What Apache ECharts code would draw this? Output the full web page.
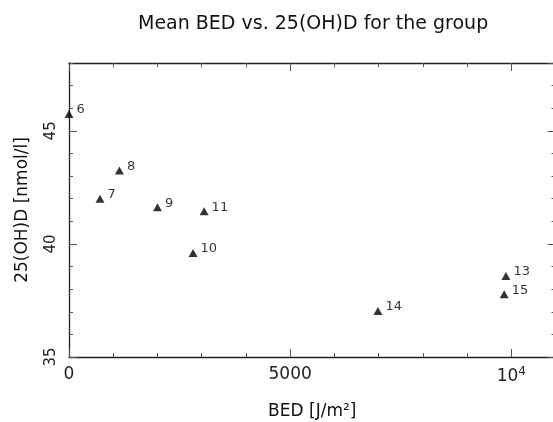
<!DOCTYPE html>
<html>
<head>
<meta charset="utf-8">
<script src="https://cdn.jsdelivr.net/npm/echarts@6/dist/echarts.min.js"></script>
<style>
  html, body { margin: 0; padding: 0; background: #fff; }
  #chart { width: 553px; height: 422px; }
</style>
</head>
<body>
<div id="chart"></div>
<script>
// group labels, mean BED [J/m²] and mean 25(OH)D [nmol/l]
const groups = ['6', '7', '8', '9', '10', '11', '13', '14', '15'];
const bedValues = [0, 700, 1140, 2000, 2805, 3055, 9880, 6985, 9840];
const vitDValues = [45.75, 42.0, 43.25, 41.62, 39.6, 41.45, 38.58, 37.03, 37.78];

const xTickLabels = { 0: '0', 5000: '5000', 10000: '{a|10}{s|4}' };
const yTickLabels = { 35: '35', 40: '40', 45: '45' };

const font = 'DejaVu Sans';
const lineColor = '#222';
const tickColor = '#555';

const chart = echarts.init(document.getElementById('chart'));

const points = groups.map((g, i) => [bedValues[i], vitDValues[i], g]);

function xAxisCfg(pos, major, labels) {
    return {
        type: 'value', position: pos, offset: 0, min: 0, max: 11000,
        interval: major ? 5000 : 1000,
        axisLine: { show: major, onZero: false, lineStyle: { color: lineColor, width: 1.3 } },
        axisTick: { show: true, inside: true, length: major ? 8 : 4, lineStyle: { color: tickColor, width: 1 } },
        axisLabel: {
            show: labels, margin: 9, fontFamily: font, fontSize: 17, color: '#222',
            showMaxLabel: false,
            formatter: v => xTickLabels[v] || '',
            rich: {
                a: { fontFamily: font, fontSize: 17, color: '#222' },
                s: { fontFamily: font, fontSize: 12, color: '#222', padding: [0, 0, 10, 0] }
            }
        },
        splitLine: { show: false },
        name: pos === 'bottom' && major ? 'BED [J/m²]' : '',
        nameLocation: 'middle', nameGap: 46,
        nameTextStyle: { fontFamily: font, fontSize: 17, color: '#111' }
    };
}

function yAxisCfg(pos, major, labels) {
    return {
        type: 'value', position: pos, offset: 0, min: 35, max: 48,
        interval: major ? 5 : 1,
        axisLine: { show: major, onZero: false, lineStyle: { color: lineColor, width: 1.3 } },
        axisTick: { show: true, inside: true, length: major ? 8 : 4, lineStyle: { color: tickColor, width: 1 } },
        axisLabel: {
            show: labels, rotate: 90, margin: 10, fontFamily: font, fontSize: 15, color: '#222',
            showMaxLabel: false,
            formatter: v => yTickLabels[v] || ''
        },
        splitLine: { show: false },
        name: pos === 'left' && major ? '25(OH)D [nmol/l]' : '',
        nameLocation: 'middle', nameGap: 38,
        nameTextStyle: { fontFamily: font, fontSize: 17, color: '#111' }
    };
}

const option = {
    animation: false,
    backgroundColor: '#fff',
    title: {
        text: 'Mean BED vs. 25(OH)D for the group',
        left: 133, top: 10,
        textStyle: { fontFamily: font, fontSize: 19, fontWeight: 'normal', color: '#111' }
    },
    grid: { left: 69, top: 63, width: 486.5, height: 294, containLabel: false, outerBoundsMode: 'none' },
    xAxis: [
        xAxisCfg('bottom', true, true),
        xAxisCfg('bottom', false, false),
        xAxisCfg('top', true, false),
        xAxisCfg('top', false, false)
    ],
    yAxis: [
        yAxisCfg('left', true, true),
        yAxisCfg('left', false, false),
        yAxisCfg('right', true, false),
        yAxisCfg('right', false, false)
    ],
    series: [{
        type: 'scatter',
        xAxisIndex: 0, yAxisIndex: 0,
        symbol: 'triangle', symbolSize: [9, 8],
        itemStyle: { color: '#000' },
        label: {
            show: true, position: 'right', distance: 3, offset: [0, -4],
            formatter: p => p.value[2],
            fontFamily: font, fontSize: 13, color: '#000'
        },
        data: points
    }]
};

chart.setOption(option);
</script>
</body>
</html>
